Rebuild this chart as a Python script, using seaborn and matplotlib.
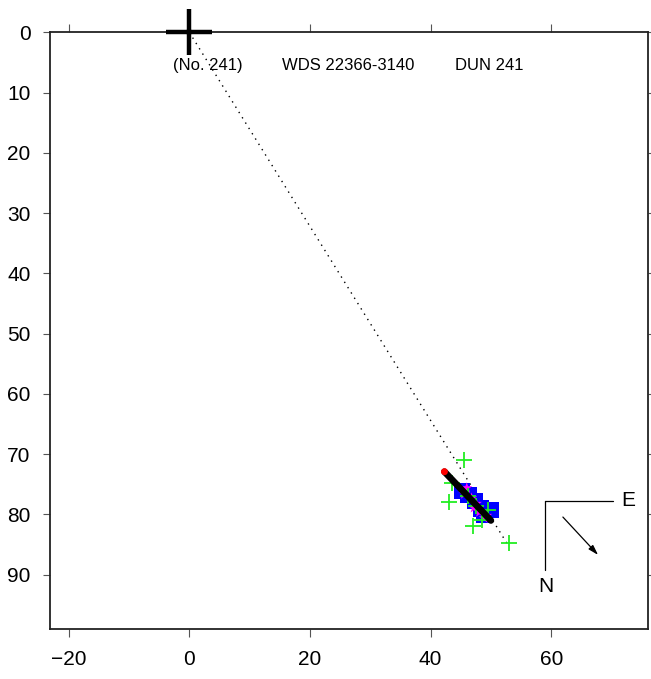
import numpy as np
import pandas as pd
import matplotlib
matplotlib.use("Agg")
import matplotlib.pyplot as plt
import seaborn as sns

# Primary star position
primary_x = [0.0]
primary_y = [0.0]

# Micrometric measures (green crosses)
micro_x = [45.5, 43.1, 47.1, 48.6, 53.0, 43.5, 49.5, 47.6, 46.2]
micro_y = [71.0, 77.9, 81.9, 80.9, 84.7, 74.8, 79.2, 78.6, 77.0]

# Interferometric measures (blue squares)
inter_x = [45.2, 46.3, 47.4, 48.4, 50.0, 48.9]
inter_y = [76.1, 76.8, 77.8, 79.0, 79.3, 80.1]

# Other measures (magenta)
other_x = [46.0, 46.8, 47.6, 48.1, 48.9, 49.3, 45.6, 47.2]
other_y = [75.6, 77.3, 78.2, 79.6, 80.6, 80.2, 76.6, 78.9]

# Linear fit segment (start, end)
fit_x = [42.3, 50.0]
fit_y = [72.9, 81.0]

# Dotted line from the primary
guide_x = [0.0, 52.8]
guide_y = [0.0, 85.0]

xlim = (-23.1, 76.0)
ylim = (99.0, 0.0)
xticks = [-20, 0, 20, 40, 60]
yticks = [0, 10, 20, 30, 40, 50, 60, 70, 80, 90]

sns.set_style("ticks")
plt.rcParams["font.family"] = ["Liberation Sans", "DejaVu Sans"]
plt.rcParams["text.color"] = "black"

fig = plt.figure(figsize=(6.51, 6.79), dpi=100)
ax = fig.add_axes([50 / 651, 1 - 629 / 679, 597.7 / 651, 596.7 / 679])

sns.lineplot(x=guide_x, y=guide_y, ax=ax, color="black", lw=1.0,
             linestyle=(0, (1, 3.5)), sort=False)

sns.scatterplot(x=inter_x, y=inter_y, ax=ax, marker="s", s=140,
                color="#0000ff", edgecolor="none", zorder=3)
sns.scatterplot(x=other_x, y=other_y, ax=ax, marker="*", s=70,
                color="#ff00ff", edgecolor="none", zorder=3)
sns.scatterplot(x=micro_x, y=micro_y, ax=ax, marker="+", s=120,
                color="#22ee22", linewidth=1.3, zorder=4)

sns.lineplot(x=fit_x, y=fit_y, ax=ax, color="black", lw=4.8,
             sort=False, zorder=5)
sns.scatterplot(x=fit_x[:1], y=fit_y[:1], ax=ax, color="red", s=25,
                edgecolor="none", zorder=6)

sns.scatterplot(x=primary_x, y=primary_y, ax=ax, marker="+", s=33 ** 2,
                color="black", linewidth=3.2, zorder=6, clip_on=False)

ax.text(3.1, 5.5, "(No. 241)", ha="center", va="center", fontsize=12)
ax.text(26.4, 5.5, "WDS 22366-3140", ha="center", va="center", fontsize=12)
ax.text(49.7, 5.5, "DUN 241", ha="center", va="center", fontsize=12)

# Orientation compass
tr = ax.transAxes
cx, cy = (545 - 50) / 597.7, (629 - 501) / 596.7
ax.plot([cx, (613 - 50) / 597.7], [cy, cy], color="black", lw=0.9,
        transform=tr)
ax.plot([cx, cx], [cy, (629 - 570) / 596.7], color="black", lw=0.9,
        transform=tr)
ax.text((628 - 50) / 597.7, cy, "E", transform=tr, ha="center",
        va="center", fontsize=15)
ax.text((546 - 50) / 597.7, (629 - 586) / 596.7, "N", transform=tr,
        ha="center", va="center", fontsize=15)
ax.annotate("", xy=((600 - 50) / 597.7, (629 - 557) / 596.7),
            xytext=((561 - 50) / 597.7, (629 - 515) / 596.7),
            xycoords=tr, textcoords=tr,
            arrowprops=dict(arrowstyle="-|>,head_length=0.6,head_width=0.18",
                            color="black", lw=0.9))

ax.set_xlim(*xlim)
ax.set_ylim(*ylim)
ax.set_xticks(xticks)
ax.set_yticks(yticks)
ax.set_xticklabels([("\u2212" + str(-t)) if t < 0 else str(t) for t in xticks])
ax.set_xlabel("")
ax.set_ylabel("")
ax.tick_params(axis="both", which="major", direction="out", length=5,
               width=0.8, color="#555555", labelsize=15, labelcolor="black",
               pad=9, top=True, right=True, labeltop=False, labelright=False)
ax.tick_params(axis="x", length=6)
for sp in ax.spines.values():
    sp.set_visible(True)
    sp.set_linewidth(1.3)
    sp.set_color("#222222")

fig.savefig("out.png", dpi=100)
